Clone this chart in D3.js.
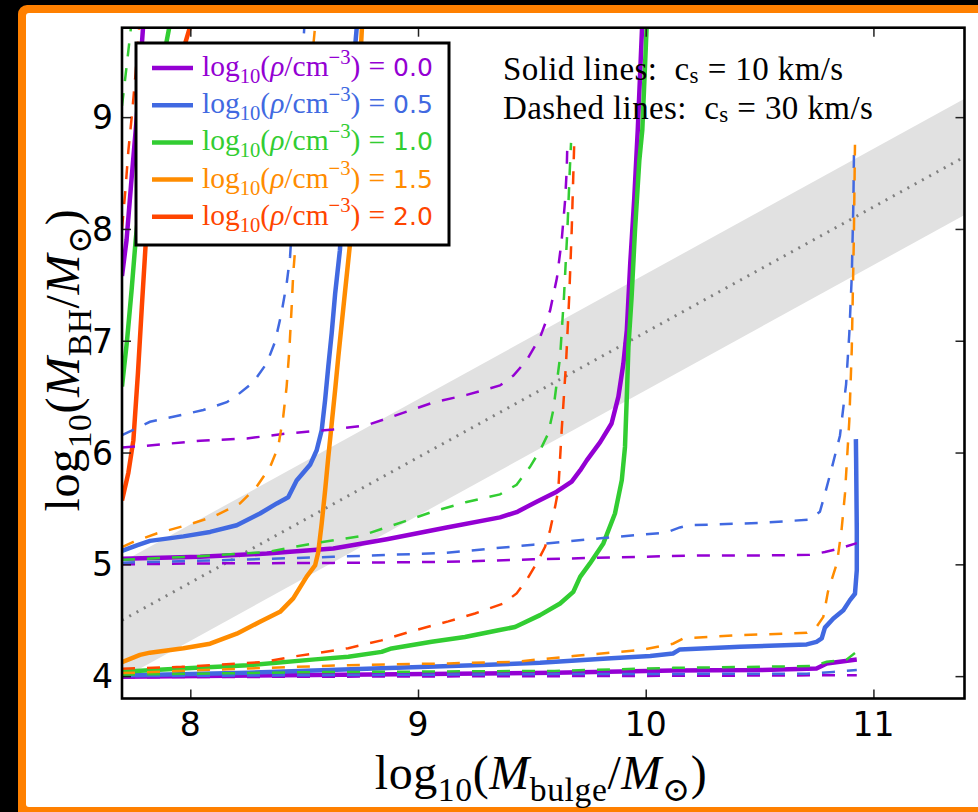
<!DOCTYPE html>
<html>
<head>
<meta charset="utf-8">
<script src="https://cdn.jsdelivr.net/npm/d3@7"></script>
<style>
  html, body { margin: 0; padding: 0; background: #000; }
  svg { display: block; }
</style>
</head>
<body>
<svg id="chart" width="978" height="812"></svg>
<script>
// ---------------------------------------------------------------------------
// Data: black-hole growth tracks, [log10 M_bulge, log10 M_BH]
// One array per gas density (log10 rho / cm^-3) and sound speed (km/s).
// ---------------------------------------------------------------------------
const densities = [0.0, 0.5, 1.0, 1.5, 2.0];
const soundSpeeds = [10, 30];
const xTicks = [8, 9, 10, 11];
const yTicks = [4, 5, 6, 7, 8, 9];

// c_s = 10 km/s
const tracksRho00Cs10 = [
  [[7.700,7.58],[7.720,7.90],[7.740,8.40],[7.765,9.00],[7.794,9.85]],
  [[7.700,5.05],[8.043,5.067],[8.336,5.097],[8.628,5.142],[8.863,5.225],[9.126,5.33],[9.360,5.42],[9.433,5.467],[9.521,5.56],[9.609,5.65],[9.675,5.74],[9.712,5.84],[9.741,5.93],[9.800,6.093],[9.850,6.26],[9.880,6.50],[9.902,6.797],[9.917,7.095],[9.932,7.69],[9.950,8.287],[9.965,8.884],[9.985,9.85]],
  [[7.700,3.995],[8.548,4.01],[9.600,4.03],[10.120,4.05],[10.500,4.054],[10.750,4.069],[10.795,4.114],[10.927,4.148]]
];
const tracksRho05Cs10 = [
  [[7.700,5.12],[7.765,5.17],[7.823,5.21],[7.970,5.25],[8.087,5.29],[8.204,5.35],[8.306,5.455],[8.380,5.545],[8.430,5.60],[8.467,5.75],[8.526,5.89],[8.555,6.02],[8.577,6.20],[8.592,6.47],[8.606,6.77],[8.621,7.07],[8.636,7.42],[8.657,7.81],[8.688,8.79],[8.733,9.85]],
  [[7.700,4.005],[8.255,4.03],[8.840,4.07],[9.280,4.10],[9.536,4.12],[9.830,4.158],[10.020,4.18],[10.120,4.203],[10.150,4.239],[10.414,4.262],[10.707,4.284],[10.750,4.307],[10.773,4.337],[10.787,4.434],[10.824,4.516],[10.868,4.59],[10.897,4.68],[10.919,4.737],[10.927,4.948],[10.927,5.306],[10.924,5.956],[10.923,6.12]]
];
const tracksRho10Cs10 = [
  [[7.700,6.59],[7.722,7.00],[7.742,7.45],[7.760,7.90],[7.790,8.50],[7.830,9.00],[7.870,9.40],[7.912,9.85]],
  [[7.700,4.04],[7.962,4.069],[8.255,4.098],[8.548,4.15],[8.694,4.173],[8.840,4.217],[8.884,4.248],[9.060,4.307],[9.206,4.35],[9.353,4.41],[9.426,4.44],[9.536,4.546],[9.624,4.65],[9.682,4.754],[9.712,4.888],[9.755,5.008],[9.814,5.187],[9.865,5.455],[9.895,5.753],[9.909,6.05],[9.917,6.50],[9.924,6.945],[9.938,7.39],[9.953,7.99],[9.972,8.615],[9.985,8.884],[10.005,9.85]]
];
const tracksRho15Cs10 = [
  [[7.700,4.125],[7.779,4.19],[7.823,4.21],[7.970,4.25],[8.087,4.29],[8.204,4.38],[8.306,4.486],[8.394,4.575],[8.452,4.695],[8.511,4.89],[8.548,4.99],[8.562,5.11],[8.577,5.366],[8.592,5.66],[8.606,5.96],[8.621,6.26],[8.636,6.56],[8.650,6.856],[8.665,7.155],[8.680,7.45],[8.700,7.84],[8.728,8.79],[8.755,9.85]]
];
const tracksRho20Cs10 = [
  [[7.700,5.57],[7.728,5.82],[7.750,6.11],[7.770,6.71],[7.787,7.30],[7.805,7.90],[7.850,8.60],[7.925,9.30],[8.005,9.85]]
];

// c_s = 30 km/s
const tracksRho00Cs30 = [
  [[7.700,6.046],[7.800,6.06],[8.043,6.105],[8.248,6.126],[8.423,6.17],[8.628,6.207],[8.775,6.245],[8.863,6.305],[9.067,6.448],[9.214,6.516],[9.360,6.60],[9.419,6.688],[9.477,6.825],[9.536,7.03],[9.580,7.27],[9.610,7.56],[9.631,7.90],[9.646,8.257],[9.653,8.526],[9.656,8.77]],
  [[7.700,5.00],[8.043,5.008],[8.628,5.013],[9.126,5.022],[9.506,5.045],[10.240,5.08],[10.546,5.08],[10.720,5.085],[10.787,5.11],[10.853,5.143],[10.927,5.19]],
  [[7.700,3.99],[8.600,3.995],[9.600,4.0],[10.500,4.005],[10.927,4.009]]
];
const tracksRho05Cs30 = [
  [[7.700,6.156],[7.823,6.275],[7.940,6.326],[8.057,6.38],[8.160,6.45],[8.204,6.51],[8.277,6.63],[8.336,6.80],[8.372,6.99],[8.400,7.244],[8.423,7.51],[8.438,7.75],[8.470,8.79],[8.502,9.85]],
  [[7.700,5.015],[8.190,5.04],[8.628,5.067],[9.126,5.103],[9.506,5.176],[9.800,5.233],[10.090,5.284],[10.150,5.33],[10.195,5.35],[10.500,5.37],[10.720,5.40],[10.765,5.47],[10.787,5.63],[10.817,5.86],[10.853,6.15],[10.880,6.61],[10.894,7.06],[10.905,7.58],[10.912,8.233],[10.915,8.754]],
  [[7.700,4.0],[9.536,4.018],[10.707,4.022],[10.824,4.038],[10.927,4.054]]
];
const tracksRho10Cs30 = [
  [[7.700,9.10],[7.720,9.45],[7.742,9.85]],
  [[7.700,5.04],[8.043,5.073],[8.336,5.11],[8.540,5.187],[8.745,5.252],[8.890,5.35],[9.067,5.472],[9.214,5.558],[9.360,5.626],[9.433,5.712],[9.492,5.872],[9.536,6.02],[9.572,6.17],[9.594,6.38],[9.609,6.618],[9.624,6.856],[9.641,7.393],[9.656,7.99],[9.666,8.50],[9.672,8.77]],
  [[7.700,4.013],[8.548,4.036],[9.600,4.047],[10.120,4.074],[10.736,4.09],[10.795,4.128],[10.883,4.15],[10.919,4.206]]
];
const tracksRho15Cs30 = [
  [[7.700,5.154],[7.750,5.20],[7.852,5.276],[7.984,5.35],[8.100,5.425],[8.218,5.545],[8.290,5.69],[8.350,5.87],[8.386,6.05],[8.408,6.32],[8.423,6.59],[8.435,6.92],[8.445,7.30],[8.452,7.60],[8.460,7.81],[8.500,8.79],[8.550,9.85]],
  [[7.700,4.027],[8.255,4.069],[8.694,4.098],[9.133,4.114],[9.426,4.128],[9.682,4.18],[9.975,4.233],[10.120,4.29],[10.165,4.337],[10.414,4.367],[10.707,4.387],[10.750,4.44],[10.780,4.53],[10.800,4.753],[10.840,5.013],[10.860,5.306],[10.875,5.63],[10.894,6.28],[10.905,6.93],[10.914,7.91],[10.919,8.754]]
];
const tracksRho20Cs30 = [
  [[7.700,8.00],[7.715,8.35],[7.728,8.70],[7.745,9.05],[7.760,9.40],[7.777,9.85]],
  [[7.700,4.067],[7.962,4.083],[8.108,4.10],[8.328,4.128],[8.445,4.173],[8.548,4.203],[8.694,4.25],[8.840,4.32],[8.987,4.41],[9.133,4.49],[9.250,4.56],[9.375,4.65],[9.433,4.74],[9.477,4.86],[9.521,5.01],[9.558,5.157],[9.580,5.306],[9.602,5.514],[9.616,5.664],[9.631,6.20],[9.650,6.797],[9.664,7.393],[9.675,7.99],[9.686,8.765]]
];

// Observed M_BH - M_bulge relation: centre line end points and scatter (dex)
const relationLine = [[7.7, 4.50], [11.4, 8.645]];
const relationScatter = 0.52;

// ---------------------------------------------------------------------------
const seriesCs10 = [tracksRho00Cs10, tracksRho05Cs10, tracksRho10Cs10, tracksRho15Cs10, tracksRho20Cs10];
const seriesCs30 = [tracksRho00Cs30, tracksRho05Cs30, tracksRho10Cs30, tracksRho15Cs30, tracksRho20Cs30];
const colors = ["#9400D3", "#4169E1", "#32CD32", "#FF8C00", "#FF4500"];

const svg = d3.select("#chart");
const W = 978, H = 812;

// page frame
svg.append("rect").attr("x", 0).attr("y", 0).attr("width", W).attr("height", H).attr("fill", "#000");
svg.append("rect").attr("x", 18).attr("y", 5).attr("width", W + 20).attr("height", H + 20)
  .attr("rx", 9).attr("fill", "#FF8000");
svg.append("rect").attr("x", 26).attr("y", 13).attr("width", W).attr("height", 794)
  .attr("rx", 3).attr("fill", "#fff");

const plot = { left: 122, right: 964.5, top: 27.7, bottom: 698.5 };
const x = d3.scaleLinear().domain([7.7, 11.4]).range([plot.left, plot.right]);
const y = d3.scaleLinear().domain([3.8, 9.8]).range([plot.bottom, plot.top]);

svg.append("clipPath").attr("id", "plotClip")
  .append("rect").attr("x", plot.left).attr("y", plot.top)
  .attr("width", plot.right - plot.left).attr("height", plot.bottom - plot.top);

const g = svg.append("g").attr("clip-path", "url(#plotClip)");

// scatter band of the relation
const bandArea = d3.area()
  .x(d => x(d[0]))
  .y0(d => y(d[1] - relationScatter))
  .y1(d => y(d[1] + relationScatter));
g.append("path").datum(relationLine).attr("d", bandArea).attr("fill", "#e1e1e1");

const line = d3.line().x(d => x(d[0])).y(d => y(d[1]));
g.append("path").datum(relationLine).attr("d", line)
  .attr("fill", "none").attr("stroke", "#808080").attr("stroke-width", 3)
  .attr("stroke-dasharray", "2 6.3");

// tracks: solid for c_s = 10 km/s, dashed for c_s = 30 km/s
densities.forEach((rho, i) => {
  seriesCs10[i].forEach(track => {
    g.append("path").datum(track).attr("d", line)
      .attr("fill", "none").attr("stroke", colors[i]).attr("stroke-width", 4.5)
      .attr("stroke-linejoin", "round");
  });
});
densities.forEach((rho, i) => {
  seriesCs30[i].forEach(track => {
    g.append("path").datum(track).attr("d", line)
      .attr("fill", "none").attr("stroke", colors[i]).attr("stroke-width", 2.5)
      .attr("stroke-dasharray", "13 12");
  });
});

// axes frame with inward ticks on all four sides
const tickLen = 9;
const axisG = svg.append("g");
const bottomAxis = d3.axisBottom(x).tickValues(xTicks).tickSize(-tickLen).tickFormat("");
const topAxis = d3.axisTop(x).tickValues(xTicks).tickSize(-tickLen).tickFormat("");
const leftAxis = d3.axisLeft(y).tickValues(yTicks).tickSize(-tickLen).tickFormat("");
const rightAxis = d3.axisRight(y).tickValues(yTicks).tickSize(-tickLen).tickFormat("");
axisG.append("g").attr("transform", `translate(0,${plot.bottom})`).call(bottomAxis);
axisG.append("g").attr("transform", `translate(0,${plot.top})`).call(topAxis);
axisG.append("g").attr("transform", `translate(${plot.left},0)`).call(leftAxis);
axisG.append("g").attr("transform", `translate(${plot.right},0)`).call(rightAxis);
axisG.selectAll(".domain").remove();
axisG.selectAll(".tick line").attr("stroke", "#222").attr("stroke-width", 1.5);

svg.append("rect").attr("x", plot.left).attr("y", plot.top)
  .attr("width", plot.right - plot.left).attr("height", plot.bottom - plot.top)
  .attr("fill", "none").attr("stroke", "#000").attr("stroke-width", 2.6);

// tick labels
const tickFont = "'DejaVu Sans', sans-serif";
const tickSize = 33;
svg.append("g").selectAll("text").data(xTicks).join("text")
  .attr("x", d => x(d)).attr("y", 736)
  .attr("text-anchor", "middle").attr("font-family", tickFont).attr("font-size", tickSize)
  .text(d => d);
svg.append("g").selectAll("text").data(yTicks).join("text")
  .attr("x", 113).attr("y", d => y(d) + 12)
  .attr("text-anchor", "end").attr("font-family", tickFont).attr("font-size", tickSize)
  .text(d => d);

// math-style text built from tspans
const mathFont = "'Liberation Serif', 'DejaVu Serif', serif";
function addMath(textSel, parts, size, subDrop = 0.24) {
  let shift = 0;
  parts.forEach(p => {
    const ts = textSel.append("tspan").text(p.t);
    const target = p.sub ? size * subDrop : (p.sup ? -size * 0.42 : 0);
    if (target - shift !== 0) ts.attr("dy", target - shift);
    shift = target;
    if (p.sub || p.sup) ts.attr("font-size", size * 0.7);
    if (p.it) ts.attr("font-style", "italic");
    if (p.font) ts.attr("font-family", p.font);
    if (p.size) ts.attr("font-size", p.size);
    if (p.dx) ts.attr("dx", p.dx);
  });
}

// axis labels
const labelSize = 48;
const xLabel = svg.append("text").attr("x", 541).attr("y", 789)
  .attr("text-anchor", "middle").attr("font-family", mathFont).attr("font-size", labelSize)
  .attr("letter-spacing", 0.6);
addMath(xLabel, [
  { t: "log" }, { t: "10", sub: true }, { t: "(" }, { t: "M", it: true },
  { t: "bulge", sub: true }, { t: "/" }, { t: "M", it: true }, { t: "\u2299", sub: true }, { t: ")" }
], labelSize);

const yLabel = svg.append("text").attr("transform", "translate(79,360) rotate(-90)")
  .attr("text-anchor", "middle").attr("font-family", mathFont).attr("font-size", labelSize)
  .attr("letter-spacing", 0.6);
addMath(yLabel, [
  { t: "log" }, { t: "10", sub: true }, { t: "(" }, { t: "M", it: true },
  { t: "BH", sub: true }, { t: "/" }, { t: "M", it: true }, { t: "\u2299", sub: true }, { t: ")" }
], labelSize);

// sound-speed note
const noteSize = 33;
[["Solid lines:", soundSpeeds[0]], ["Dashed lines:", soundSpeeds[1]]].forEach((row, i) => {
  const t = svg.append("text").attr("x", 503).attr("y", 80 + i * 38.5)
    .attr("font-family", mathFont).attr("font-size", noteSize).attr("letter-spacing", 0.4);
  addMath(t, [
    { t: row[0] + "\u00a0\u00a0c" }, { t: "s", sub: true },
    { t: "\u00a0=\u00a0" + row[1] + "\u00a0km/s" }
  ], noteSize, 0.1);
});

// legend
const leg = { x: 136, y: 43, w: 313, h: 202, row0: 68, rowStep: 37.2 };
svg.append("rect").attr("x", leg.x).attr("y", leg.y).attr("width", leg.w).attr("height", leg.h)
  .attr("fill", "#fff").attr("stroke", "#000").attr("stroke-width", 3);
const legSize = 29.5;
densities.forEach((rho, i) => {
  const cy = leg.row0 + i * leg.rowStep;
  svg.append("line").attr("x1", 152).attr("x2", 193).attr("y1", cy).attr("y2", cy)
    .attr("stroke", colors[i]).attr("stroke-width", 4.5);
  const t = svg.append("text").attr("x", 202).attr("y", cy + 8)
    .attr("font-family", mathFont).attr("font-size", legSize).attr("fill", colors[i]);
  addMath(t, [
    { t: "log" }, { t: "10", sub: true }, { t: "(" }, { t: "\u03c1", it: true }, { t: "/cm" },
    { t: "\u22123", sup: true }, { t: ")" }, { t: "=", dx: 8 },
    { t: rho.toFixed(1), font: "'DejaVu Sans', sans-serif", size: 25, dx: 8 }
  ], legSize);
});
</script>
</body>
</html>
